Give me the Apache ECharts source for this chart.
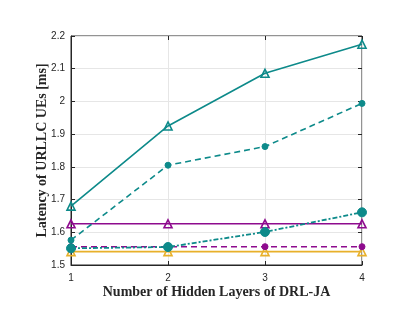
<!DOCTYPE html>
<html><head><meta charset="utf-8">
<script src="https://cdn.jsdelivr.net/npm/echarts@6/dist/echarts.min.js"></script>
<style>html,body{margin:0;padding:0;background:#fff}#c{width:420px;height:315px}</style>
</head><body><div id="c"></div>
<script>
const layers = [1, 2, 3, 4];
const tealSolidTri = [1.68, 1.925, 2.086, 2.175];
const tealDashDot = [1.576, 1.805, 1.862, 1.994];
const tealDashDotBig = [1.551, 1.555, 1.601, 1.661];
const purpleSolidTri = [1.626, 1.626, 1.626, 1.626];
const purpleDashDot = [1.556, 1.556, 1.556, 1.556];
const yellowSolidTri = [1.541, 1.541, 1.541, 1.541];
const yTicks = [1.5, 1.6, 1.7, 1.8, 1.9, 2.0, 2.1, 2.2];

const TEAL = '#0d8a8a', PURPLE = '#8e0b8e', YELLOW = '#e8b02a';
const pts = arr => arr.map((v, i) => [layers[i], v]);
const chart = echarts.init(document.getElementById('c'));
const tickFont = {fontFamily: 'Liberation Sans', fontSize: 10, color: '#262626'};
function series(data, color, lineType, symbol, size, hollow, width) {
  return {
    type: 'line', data: pts(data), symbol: symbol, symbolSize: size,
    showAllSymbol: true,
    lineStyle: {color: color, width: width || 1.6, type: lineType},
    itemStyle: hollow ? {color: 'rgba(255,255,255,0)', borderColor: color, borderWidth: 1.6}
                      : {color: color, borderColor: color, borderWidth: 1},
    emphasis: {disabled: true}, animation: false, z: 3
  };
}
chart.setOption({
  animation: false,
  grid: {left: 71, right: 58, top: 36, bottom: 50, show: true, borderColor: '#262626', borderWidth: 1},
  xAxis: [{
    type: 'value', min: 1, max: 4, interval: 1,
    name: 'Number of Hidden Layers of DRL-JA', nameLocation: 'middle', nameGap: 20,
    nameMoveOverlap: false,
    nameTextStyle: {fontFamily: 'Liberation Serif', fontWeight: 'bold', fontSize: 14, color: '#262626'},
    axisLine: {lineStyle: {color: '#262626'}},
    axisTick: {inside: true, length: 4, lineStyle: {color: '#262626'}},
    axisLabel: Object.assign({margin: 8}, tickFont),
    splitLine: {show: true, lineStyle: {color: '#e6e6e6'}}
  }, {
    type: 'value', min: 1, max: 4, interval: 1, position: 'top',
    axisLine: {show: false}, axisTick: {inside: true, length: 4, lineStyle: {color: '#262626'}},
    axisLabel: {show: false}, splitLine: {show: false}
  }],
  yAxis: [{
    type: 'value', min: 1.5, max: 2.2, interval: 0.1,
    name: 'Latency of URLLC UEs [ms]', nameLocation: 'middle', nameGap: 22, nameRotate: 90,
    nameMoveOverlap: false,
    nameTextStyle: {fontFamily: 'Liberation Serif', fontWeight: 'bold', fontSize: 14, color: '#262626'},
    axisLine: {lineStyle: {color: '#262626'}},
    axisTick: {inside: true, length: 4, lineStyle: {color: '#262626'}},
    axisLabel: Object.assign({margin: 6, formatter: v => String(Math.round(v * 10) / 10)}, tickFont),
    splitLine: {show: true, lineStyle: {color: '#e6e6e6'}}
  }, {
    type: 'value', min: 1.5, max: 2.2, interval: 0.1, position: 'right',
    axisLine: {show: false}, axisTick: {inside: true, length: 4, lineStyle: {color: '#262626'}},
    axisLabel: {show: false}, splitLine: {show: false}
  }],
  series: [
    series(yellowSolidTri, YELLOW, 'solid', 'triangle', 8, true),
    series(purpleDashDot, PURPLE, [6, 4], 'circle', 6, false),
    series(purpleSolidTri, PURPLE, 'solid', 'triangle', 8, true),
    series(tealDashDotBig, TEAL, [5, 2, 2, 2], 'circle', 9, false, 1.8),
    series(tealDashDot, TEAL, [6, 4], 'circle', 6, false),
    series(tealSolidTri, TEAL, 'solid', 'triangle', 8, true)
  ]
});
</script></body></html>
